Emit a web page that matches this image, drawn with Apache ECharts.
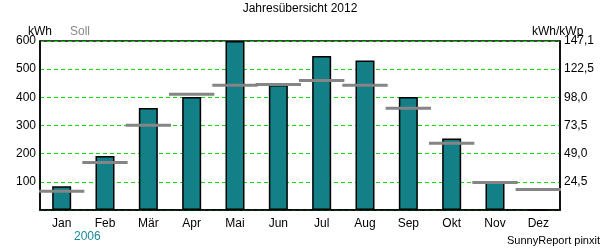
<!DOCTYPE html>
<html><head><meta charset="utf-8">
<script src="https://cdn.jsdelivr.net/npm/echarts@6/dist/echarts.min.js"></script>
<style>html,body{margin:0;padding:0;background:#fff}#c{width:600px;height:250px}</style>
</head><body><div id="c"></div>
<script>
const months = ['Jan','Feb','Mär','Apr','Mai','Jun','Jul','Aug','Sep','Okt','Nov','Dez'];
const ist = [84,192,362,401,600,444,547,531,401,254,98,0];
const soll = [67,169,301,411,443,446,460,443,361,237,98,73];
const leftTicks = [100,200,300,400,500,600];
const rightTicks = ['','24,5','49,0','73,5','98,0','122,5','147,1'];
const rightMax = 147.1;

const FONT = '"Liberation Sans", Arial, sans-serif';
const chart = echarts.init(document.getElementById('c'), null, {renderer:'canvas'});
chart.setOption({
  animation:false,
  textStyle:{fontFamily:FONT},
  grid:{left:40,right:40,top:41,bottom:40,show:true,borderColor:'#000',borderWidth:1.5,backgroundColor:'transparent'},
  graphic:[
    {type:'text',left:'center',top:3,style:{text:'Jahresübersicht 2012',font:'12px '+FONT,fill:'#000'}},
    {type:'text',left:28,top:26,style:{text:'kWh',font:'12px '+FONT,fill:'#000'}},
    {type:'text',left:70,top:26,style:{text:'Soll',font:'12px '+FONT,fill:'#888'}},
    {type:'text',left:532,top:26,style:{text:'kWh/kWp',font:'12px '+FONT,fill:'#000'}},
    {type:'text',left:74,top:231,style:{text:'2006',font:'12px '+FONT,fill:'#1a8a98'}},
    {type:'text',left:507,top:235,style:{text:'SunnyReport pinxit',font:'11px '+FONT,fill:'#000'}}
  ],
  xAxis:{type:'category',data:months,
    axisLine:{show:true,lineStyle:{color:'#000',width:1.5}},
    axisTick:{show:false},
    axisLabel:{color:'#000',fontSize:12,fontFamily:FONT,margin:8},
    splitLine:{show:false}},
  yAxis:[
    {type:'value',min:0,max:600,interval:100,
      axisLine:{show:true,lineStyle:{color:'#000',width:1.5}},
      axisTick:{show:false},
      axisLabel:{color:'#000',fontSize:12,fontFamily:FONT,margin:4,
        formatter:v=>leftTicks.indexOf(v)>=0?String(v):''},
      splitLine:{show:true,lineStyle:{color:'#00e000',type:[4,3],width:1}}},
    {type:'value',min:0,max:rightMax,interval:rightMax/6,position:'right',
      axisLine:{show:true,lineStyle:{color:'#000',width:1.5}},
      axisTick:{show:false},
      axisLabel:{color:'#000',fontSize:12,fontFamily:FONT,margin:4,
        formatter:v=>rightTicks[Math.round(v/(rightMax/6))]||''},
      splitLine:{show:false}}
  ],
  series:[
    {type:'bar',data:ist,barWidth:19,
      itemStyle:{color:'#137f87',borderColor:'#000',borderWidth:1.5},z:2},
    {type:'custom',data:soll.map((v,i)=>[i,v]),encode:{x:0,y:1},z:3,
      renderItem:function(params,api){
        const p=api.coord([api.value(0),api.value(1)]);
        const w=api.size([1,0])[0];
        return {type:'line',shape:{x1:p[0]-w/2-1,y1:p[1],x2:p[0]+w/2+1,y2:p[1]},
          style:{stroke:'#858585',lineWidth:3}};
      }}
  ]
});
</script></body></html>
